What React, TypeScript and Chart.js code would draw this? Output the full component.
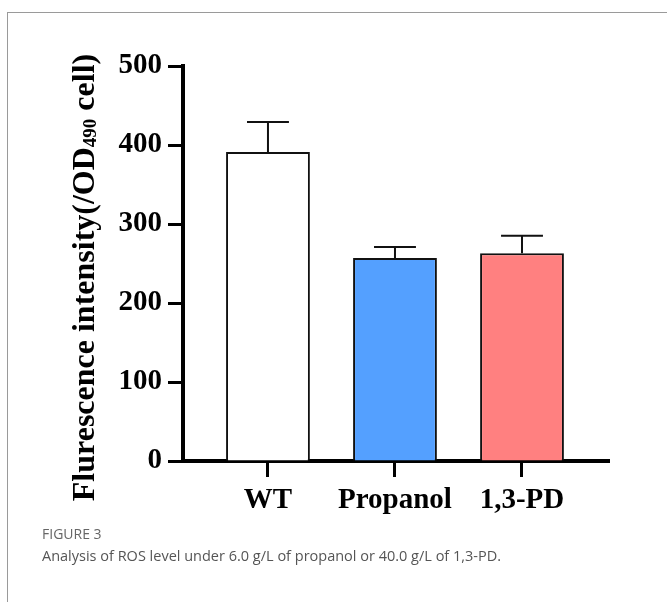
import React, { useEffect, useRef } from "react";
import { Chart, registerables } from "chart.js";

Chart.register(...registerables);

const categories = ["WT", "Propanol", "1,3-PD"];
const values = [391, 257, 263];
const errors = [38, 14, 22];
const yTicks = [0, 100, 200, 300, 400, 500];
const barColors = ["#ffffff", "#54a0ff", "#ff8080"];

const SERIF = '"Liberation Serif", "Times New Roman", serif';

const errorBarPlugin = {
  id: "errorBars",
  afterDatasetsDraw(chart: any) {
    const ctx = chart.ctx;
    const meta = chart.getDatasetMeta(0);
    const ys = chart.scales.y;
    ctx.save();
    ctx.strokeStyle = "#111";
    ctx.lineWidth = 2;
    ctx.lineCap = "butt";
    meta.data.forEach((bar: any, i: number) => {
      const x = bar.x;
      const top = ys.getPixelForValue(values[i]);
      const e = ys.getPixelForValue(values[i] + errors[i]);
      const half = bar.width * 0.25;
      ctx.beginPath();
      ctx.moveTo(x, top);
      ctx.lineTo(x, e);
      ctx.moveTo(x - half, e);
      ctx.lineTo(x + half, e);
      ctx.stroke();
    });
    ctx.restore();
  },
};

const yTitlePlugin = {
  id: "yTitle",
  afterDraw(chart: any) {
    const ctx = chart.ctx;
    const area = chart.chartArea;
    const parts = [
      { t: "Flurescence intensity(/OD", size: 32, dy: 0 },
      { t: "490", size: 19, dy: 5 },
      { t: " cell)", size: 32, dy: 0 },
    ];
    ctx.save();
    let total = 0;
    parts.forEach((p) => {
      ctx.font = `bold ${p.size}px ${SERIF}`;
      total += ctx.measureText(p.t).width;
    });
    const cx = 86;
    const cy = (area.top + area.bottom) / 2 + 14;
    ctx.translate(cx, cy);
    ctx.rotate(-Math.PI / 2);
    ctx.fillStyle = "#000";
    ctx.textBaseline = "middle";
    let x = -total / 2;
    parts.forEach((p) => {
      ctx.font = `bold ${p.size}px ${SERIF}`;
      ctx.textAlign = "left";
      ctx.fillText(p.t, x, p.dy);
      x += ctx.measureText(p.t).width;
    });
    ctx.restore();
  },
};

function BarChart() {
  const ref = useRef<HTMLCanvasElement | null>(null);
  useEffect(() => {
    if (!ref.current) return;
    const chart = new Chart(ref.current, {
      type: "bar",
      data: {
        datasets: [
          {
            data: values.map((v, i) => ({ x: i, y: v })),
            backgroundColor: barColors,
            borderColor: "#111",
            borderWidth: 2,
            categoryPercentage: 1,
            barPercentage: 0.66,
          } as any,
        ],
      },
      options: {
        animation: false,
        responsive: false,
        devicePixelRatio: 1,
        layout: { padding: { left: 0, top: 66, right: 58, bottom: 81 } },
        plugins: {
          legend: { display: false },
          tooltip: { enabled: false },
        },
        scales: {
          x: {
            type: "linear",
            offset: false,
            min: -0.669,
            max: 2.685,
            afterBuildTicks: (scale: any) => {
              scale.ticks = categories.map((_, i) => ({ value: i }));
            },
            afterFit: (scale: any) => {
              scale.height = 60;
            },
            ticks: {
              callback: (v: any) => categories[v] ?? "",
              color: "#000",
              font: { family: SERIF, size: 29, weight: "bold" },
              padding: 6,
              maxRotation: 0,
              autoSkip: false,
            },
            grid: {
              offset: false,
              drawOnChartArea: false,
              drawTicks: true,
              tickLength: 16,
              tickWidth: 3,
              tickColor: "#000",
            },
            border: { display: true, color: "#000", width: 4 },
          },
          y: {
            type: "linear",
            min: 0,
            max: 500,
            afterBuildTicks: (scale: any) => {
              scale.ticks = yTicks.map((v) => ({ value: v }));
            },
            afterFit: (scale: any) => {
              scale.width = 183;
            },
            ticks: {
              color: "#000",
              font: { family: SERIF, size: 29, weight: "bold" },
              padding: 6,
            },
            grid: {
              drawOnChartArea: false,
              drawTicks: true,
              tickLength: 15,
              tickWidth: 3,
              tickColor: "#000",
            },
            border: { display: true, color: "#000", width: 4 },
          },
        },
      } as any,
      plugins: [errorBarPlugin, yTitlePlugin],
    });
    return () => chart.destroy();
  }, []);
  return (
    <canvas
      ref={ref}
      width={667}
      height={602}
      style={{ position: "absolute", left: 0, top: 0, width: 667, height: 602 }}
    />
  );
}

export default function App() {
  return (
    <div
      style={{
        position: "fixed",
        left: 0,
        top: 0,
        width: 667,
        height: 602,
        overflow: "hidden",
        background: "#fff",
      }}
    >
      <div
        style={{
          position: "absolute",
          left: 7,
          top: 12,
          width: 700,
          height: 640,
          borderTop: "1px solid #9a9a9a",
          borderLeft: "1px solid #9a9a9a",
        }}
      />
      <BarChart />
      <div
        style={{
          position: "absolute",
          left: 42,
          top: 525,
          fontFamily: '"Open Sans", sans-serif',
          fontSize: 14,
          color: "#666",
          lineHeight: "18px",
          whiteSpace: "nowrap",
        }}
      >
        FIGURE 3
      </div>
      <div
        style={{
          position: "absolute",
          left: 42,
          top: 546,
          fontFamily: '"Open Sans", sans-serif',
          fontSize: 14.5,
          color: "#555",
          lineHeight: "20px",
          whiteSpace: "nowrap",
        }}
      >
        Analysis of ROS level under 6.0 g/L of propanol or 40.0 g/L of 1,3-PD.
      </div>
    </div>
  );
}
